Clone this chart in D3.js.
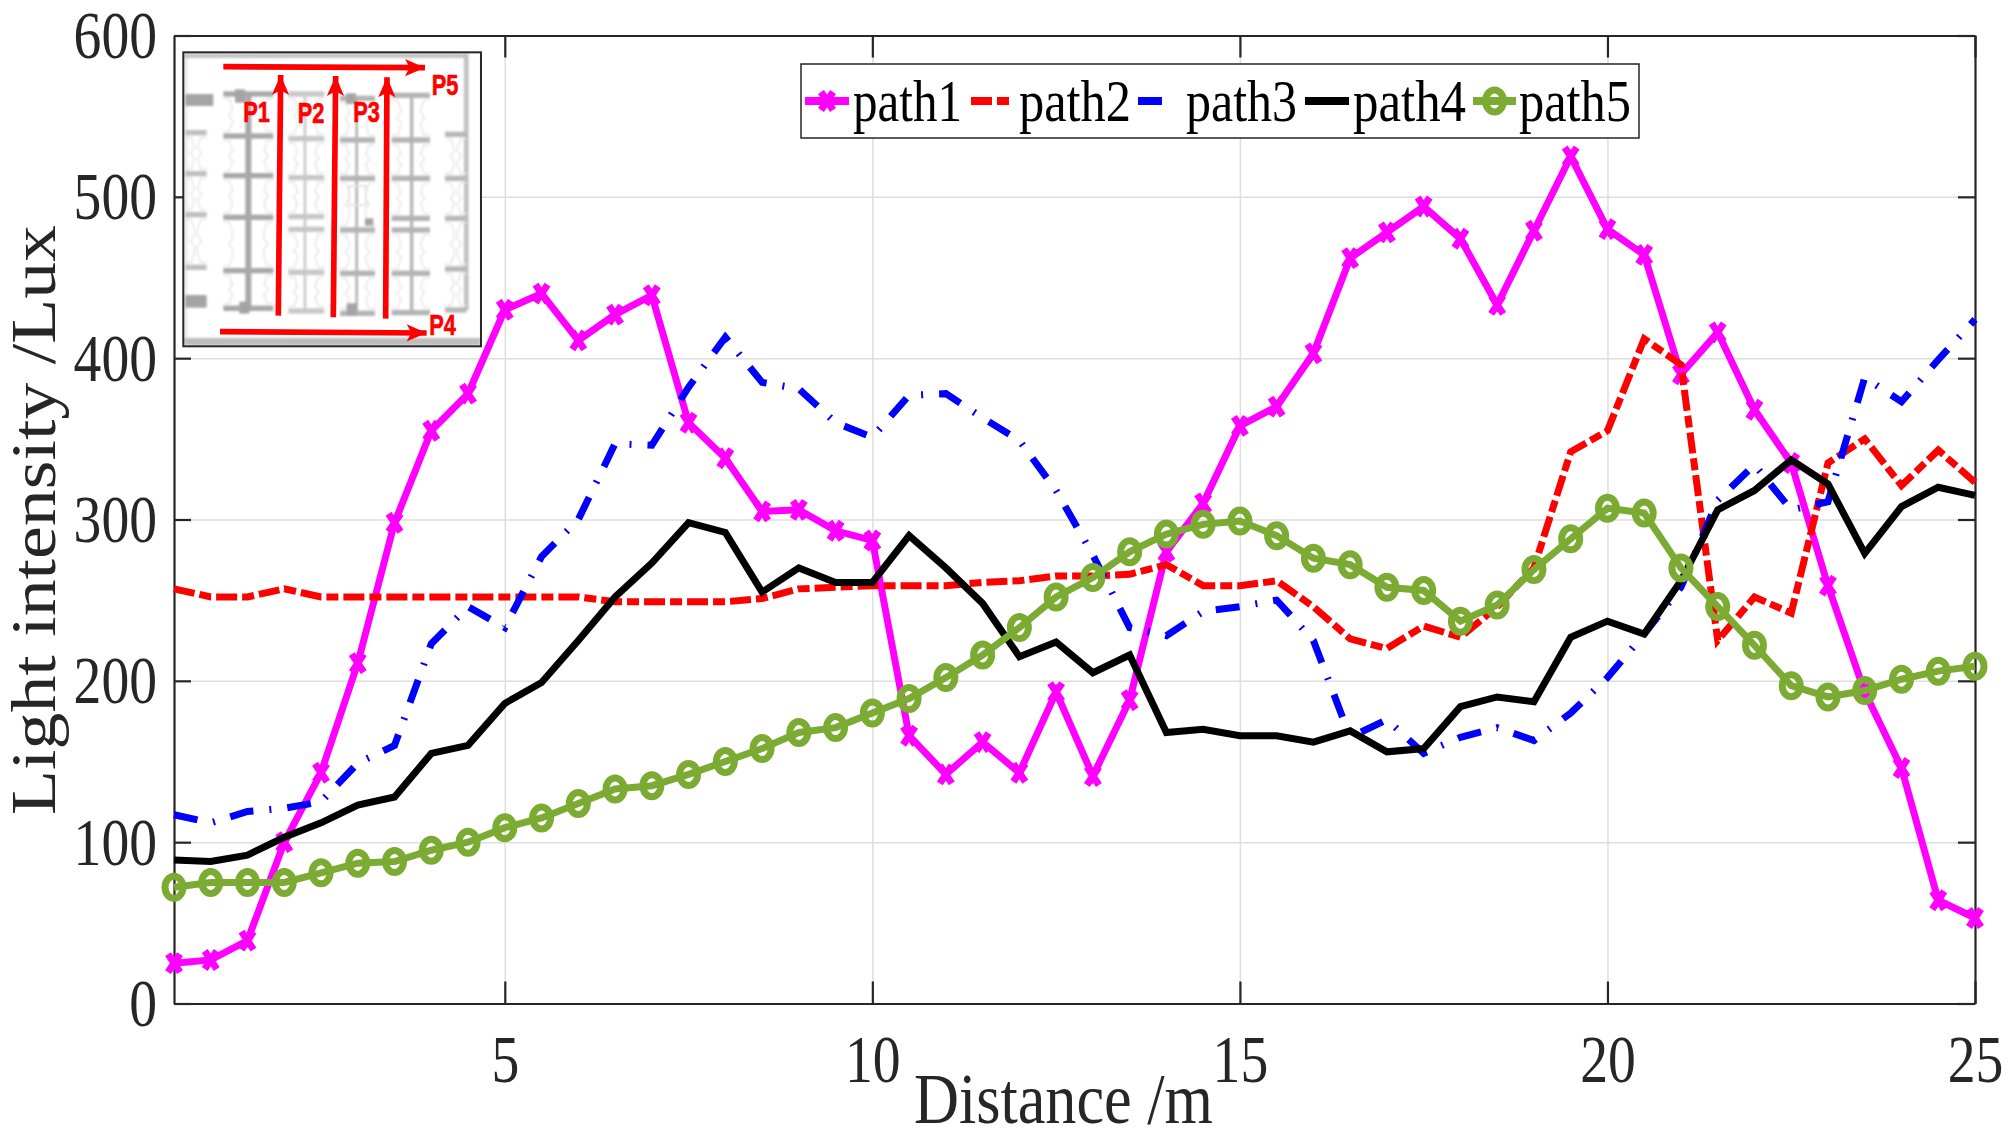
<!DOCTYPE html>
<html>
<head>
<meta charset="utf-8">
<script src="https://cdn.jsdelivr.net/npm/d3@7"></script>
<style>
  body { margin: 0; background: #fff; }
  text { font-family: "Liberation Serif", serif; fill: #262626; }
</style>
</head>
<body>
<div id="chart"></div>
<script>
// values, one every 0.5 m
var distance = d3.range(1, 51).map(function(d) { return d / 2; });
var path1 = [25,27,39,100,143,211,298,355,378,430,440,411,427,439,360,338,305,306,293,287,166,142,162,143,193,141,188,280,310,358,370,403,462,478,494,474,433,479,525,480,464,390,416,368,335,259,193,146,64,53];
var path2 = [257,252,252,257,252,252,252,252,252,252,252,252,249,249,249,249,251,257,258,259,259,259,261,262,265,265,266,272,259,259,262,246,226,220,234,227,246,270,342,355,412,396,225,252,242,335,350,321,343,323];
var path3 = [117,112,119,121,125,149,160,223,246,233,277,300,347,346,382,413,385,381,360,351,377,378,363,349,318,278,233,228,243,246,250,225,165,176,155,165,171,163,180,202,229,258,312,334,306,311,388,373,399,424];
var path4 = [89,88,92,103,112,123,128,155,160,186,199,225,252,273,298,292,255,270,261,261,290,270,248,215,224,205,216,168,170,166,166,162,169,156,158,184,190,187,227,237,229,262,306,318,337,322,279,308,320,315];
var path5 = [72,75,75,75,81,87,88,95,100,109,115,124,133,135,142,150,158,168,171,180,189,202,216,233,252,264,280,291,297,299,290,276,272,258,256,237,247,269,288,307,304,270,246,222,197,190,194,201,206,209];

var seriesNames = ["path1", "path2", "path3", "path4", "path5"];
var seriesValues = [path1, path2, path3, path4, path5];
var seriesColors = ["#ff00ff", "#ff0000", "#0000ff", "#000000", "#7bab32"];
var seriesDash = [null, "21,5,12,5", "24,16,2,16", null, null];

var xTicks = [5, 10, 15, 20, 25];
var yTicks = [0, 100, 200, 300, 400, 500, 600];
var x_label = "Distance /m";
var y_label = "Light intensity /Lux";

var width = 2013, height = 1141;
var left = 174, right = 1975, top_y = 35.5, bottom = 1003.5;
var squeeze = 0.83; // the original was stretched, glyphs are narrow
var textColor = "#262626";

var svg = d3.select("#chart").append("svg")
  .attr("width", width)
  .attr("height", height);

var defs = svg.append("defs");
defs.append("filter").attr("id", "soft")
  .append("feGaussianBlur").attr("stdDeviation", 2.4);

var xScale = d3.scaleLinear().domain([0.5, 25]).range([left, right]);
var yScale = d3.scaleLinear().domain([0, 600]).range([bottom, top_y]);

// grid
svg.append("g")
  .attr("transform", "translate(0," + bottom + ")")
  .call(d3.axisBottom(xScale).tickValues(xTicks).tickSize(-(bottom - top_y)).tickFormat(""))
  .call(function(g) { g.select(".domain").remove(); })
  .selectAll("line").attr("stroke", "#dedede").attr("stroke-width", 1.5);
svg.append("g")
  .attr("transform", "translate(" + left + ",0)")
  .call(d3.axisLeft(yScale).tickValues(yTicks).tickSize(-(right - left)).tickFormat(""))
  .call(function(g) { g.select(".domain").remove(); })
  .selectAll("line").attr("stroke", "#dedede").attr("stroke-width", 1.5);

// axes, box all round with ticks pointing in
var xAxis = svg.append("g")
  .attr("transform", "translate(0," + bottom + ")")
  .call(d3.axisBottom(xScale).tickValues(xTicks).tickSizeInner(-22).tickSizeOuter(0));
var yAxis = svg.append("g")
  .attr("transform", "translate(" + left + ",0)")
  .call(d3.axisLeft(yScale).tickValues(yTicks).tickSizeInner(-17).tickSizeOuter(0));
var xTop = svg.append("g")
  .attr("transform", "translate(0," + top_y + ")")
  .call(d3.axisTop(xScale).tickValues(xTicks).tickSizeInner(-22).tickSizeOuter(0).tickFormat(""));
var yRight = svg.append("g")
  .attr("transform", "translate(" + right + ",0)")
  .call(d3.axisRight(yScale).tickValues(yTicks).tickSizeInner(-17).tickSizeOuter(0).tickFormat(""));

[xAxis, yAxis, xTop, yRight].forEach(function(a) {
  a.selectAll("line, path").attr("stroke", textColor).attr("stroke-width", 2.2);
});

xAxis.selectAll("text")
  .attr("y", 78.5).attr("dy", 0)
  .attr("font-size", 67)
  .attr("font-family", "Liberation Serif")
  .attr("fill", textColor)
  .attr("transform", "scale(" + squeeze + ",1)");
yAxis.selectAll("text")
  .attr("x", -17 / squeeze).attr("dy", "0.33em")
  .attr("font-size", 67)
  .attr("font-family", "Liberation Serif")
  .attr("fill", textColor)
  .attr("transform", "scale(" + squeeze + ",1)");

svg.append("text")
  .attr("x", 914).attr("y", 1123)
  .attr("font-size", 71)
  .attr("textLength", 299).attr("lengthAdjust", "spacingAndGlyphs")
  .text(x_label);

svg.append("text")
  .attr("transform", "translate(55,815) rotate(-90) scale(1,0.8)")
  .attr("font-size", 78)
  .attr("textLength", 590).attr("lengthAdjust", "spacingAndGlyphs")
  .text(y_label);

// lines
var line = d3.line()
  .x(function(d, i) { return xScale(distance[i]); })
  .y(function(d) { return yScale(d); });

function drawMarker(sel, i) {
  if (i == 0) {
    sel.append("path")
      .attr("d", "M-6,-9L6,9M6,-9L-6,9")
      .attr("fill", "none")
      .attr("stroke", seriesColors[i])
      .attr("stroke-width", 7);
  } else if (i == 4) {
    sel.append("ellipse")
      .attr("rx", 9).attr("ry", 11)
      .attr("fill", "none")
      .attr("stroke", seriesColors[i])
      .attr("stroke-width", 7);
  }
}

seriesValues.forEach(function(values, i) {
  var g = svg.append("g").attr("class", seriesNames[i]);
  g.append("path")
    .attr("d", line(values))
    .attr("fill", "none")
    .attr("stroke", seriesColors[i])
    .attr("stroke-width", 7)
    .attr("stroke-linejoin", "miter")
    .attr("stroke-dasharray", seriesDash[i]);
  g.selectAll("g.mark")
    .data(values)
    .enter()
    .append("g")
    .attr("class", "mark")
    .attr("transform", function(d, k) { return "translate(" + xScale(distance[k]) + "," + yScale(d) + ")"; })
    .each(function() { drawMarker(d3.select(this), i); });
});

// legend
var legendBox = {x: 801, y: 64, w: 838, h: 74};
var legendSlots = [
  {x1: 805, x2: 849, tx: 853, tw: 109},
  {x1: 971, x2: 1010, tx: 1019, tw: 112},
  {x1: 1138, x2: 1162, tx: 1186, tw: 111},
  {x1: 1305, x2: 1349, tx: 1353, tw: 113},
  {x1: 1473, x2: 1516, tx: 1519, tw: 112}
];
var legend = svg.append("g");
legend.append("rect")
  .attr("x", legendBox.x).attr("y", legendBox.y)
  .attr("width", legendBox.w).attr("height", legendBox.h)
  .attr("fill", "#fff")
  .attr("stroke", textColor).attr("stroke-width", 1.5);
seriesNames.forEach(function(name, i) {
  var s = legendSlots[i];
  legend.append("line")
    .attr("x1", s.x1).attr("x2", s.x2)
    .attr("y1", 101).attr("y2", 101)
    .attr("stroke", seriesColors[i])
    .attr("stroke-width", 8)
    .attr("stroke-dasharray", seriesDash[i]);
  drawMarker(legend.append("g").attr("transform", "translate(" + (s.x1 + s.x2) / 2 + ",101)"), i);
  legend.append("text")
    .attr("x", s.tx).attr("y", 121)
    .attr("font-size", 59)
    .style("fill", "#000")
    .attr("textLength", s.tw).attr("lengthAdjust", "spacingAndGlyphs")
    .text(name);
});

// inset floor plan, drawn in a 3x local grid
var inset = svg.append("g").attr("transform", "translate(160,30) scale(0.3333)");
inset.append("rect").attr("x", 70).attr("y", 67).attr("width", 893).attr("height", 882).attr("fill", "#fff");
var walls = inset.append("g").attr("filter", "url(#soft)");
walls.append("rect").attr("x", 72).attr("y", 70).attr("width", 850).attr("height", 14).attr("fill", "#c4c4c4");
walls.append("rect").attr("x", 72).attr("y", 84).attr("width", 12).attr("height", 840).attr("fill", "#ececec");
walls.append("rect").attr("x", 72).attr("y", 924).attr("width", 889).attr("height", 22).attr("fill", "#bcbcbc");
walls.append("rect").attr("x", 912).attr("y", 70).attr("width", 14).attr("height", 770).attr("fill", "#c0c0c0");

var podColumns = [
  {x1: 75, x2: 140, spine: null, sw: 0, tone: "#c0c0c0", bars: [308, 431, 554, 712]},
  {x1: 190, x2: 340, spine: 265, sw: 18, tone: "#a8a8a8", bars: [192, 318, 437, 562, 722, 835]},
  {x1: 385, x2: 493, spine: 435, sw: 8, tone: "#c8c8c8", bars: [192, 326, 443, 560, 598, 727, 843]},
  {x1: 540, x2: 645, spine: 590, sw: 8, tone: "#b4b4b4", bars: [205, 330, 445, 600, 730, 850]},
  {x1: 695, x2: 810, spine: 755, sw: 10, tone: "#b4b4b4", bars: [196, 330, 445, 565, 600, 730, 848]},
  {x1: 855, x2: 920, spine: null, sw: 0, tone: "#b8b8b8", bars: [313, 445, 565, 717, 840]}
];
podColumns.forEach(function(c) {
  c.bars.forEach(function(y, k) {
    if (k < c.bars.length - 1 && c.bars[k + 1] - y > 60) {
      var y2 = c.bars[k + 1], m = (y + y2) / 2;
      walls.append("path")
        .attr("d", "M" + c.x1 + "," + (y + 14) + "h18l10,30V" + (m - 16) + "l-12,16l12,16V" + (y2 - 44) + "l-10,30h-18"
          + "M" + c.x2 + "," + (y + 14) + "h-18l-10,30V" + (m - 16) + "l12,16l-12,16V" + (y2 - 44) + "l10,30h18")
        .attr("fill", "none").attr("stroke", "#e8e8e8").attr("stroke-width", 5);
    }
    walls.append("rect")
      .attr("x", c.x1).attr("y", y - 8)
      .attr("width", c.x2 - c.x1).attr("height", 16)
      .attr("fill", c.tone);
  });
  if (c.spine) {
    walls.append("rect")
      .attr("x", c.spine - c.sw / 2).attr("y", c.bars[0])
      .attr("width", c.sw).attr("height", c.bars[c.bars.length - 1] - c.bars[0])
      .attr("fill", c.tone);
  }
});
[[75, 192, 85, 36], [75, 795, 65, 38], [225, 178, 30, 40], [238, 815, 30, 36], [558, 190, 30, 32], [560, 820, 30, 38], [615, 565, 25, 22]].forEach(function(b) {
  walls.append("rect").attr("x", b[0]).attr("y", b[1]).attr("width", b[2]).attr("height", b[3]).attr("fill", "#a4a4a4");
});
walls.append("rect").attr("x", 568).attr("y", 468).attr("width", 50).attr("height", 58)
  .attr("fill", "none").attr("stroke", "#e2e2e2").attr("stroke-width", 5);
inset.append("rect").attr("x", 70).attr("y", 67).attr("width", 893).attr("height", 882)
  .attr("fill", "none").attr("stroke", textColor).attr("stroke-width", 6);

var arrows = [
  [355, 857, 362, 135], [520, 862, 527, 138], [677, 866, 681, 142],
  [190, 110, 795, 113], [180, 905, 800, 909]
];
arrows.forEach(function(a) {
  var ang = Math.atan2(a[3] - a[1], a[2] - a[0]) * 180 / Math.PI;
  inset.append("line")
    .attr("x1", a[0]).attr("y1", a[1]).attr("x2", a[2]).attr("y2", a[3])
    .attr("stroke", "#ff0000").attr("stroke-width", 17);
  inset.append("path")
    .attr("d", "M0,0L-60,-26L-46,0L-60,26Z")
    .attr("transform", "translate(" + a[2] + "," + a[3] + ") rotate(" + ang + ")")
    .attr("fill", "#ff0000");
});
var insetLabels = [["P1", 250, 275], ["P2", 413, 278], ["P3", 580, 275], ["P4", 808, 915], ["P5", 815, 195]];
insetLabels.forEach(function(d) {
  inset.append("text")
    .attr("x", d[1]).attr("y", d[2])
    .attr("font-size", 88).attr("font-weight", "bold")
    .style("font-family", "'Liberation Sans', sans-serif")
    .style("fill", "#ff0000")
    .attr("stroke", "#ff0000").attr("stroke-width", 2)
    .attr("textLength", 80).attr("lengthAdjust", "spacingAndGlyphs")
    .text(d[0]);
});
</script>
</body>
</html>
